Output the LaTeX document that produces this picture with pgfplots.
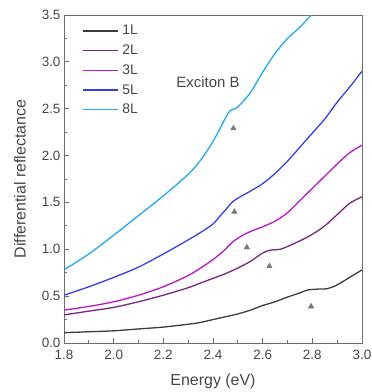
\documentclass[border=0pt]{standalone}
\usepackage{pgfplots}
\pgfplotsset{compat=1.18}
\usepackage{fontspec}
\setmainfont{Liberation Sans}
\definecolor{c1}{RGB}{60,60,60}
\definecolor{c2}{RGB}{125,35,135}
\definecolor{c3}{RGB}{190,20,205}
\definecolor{c5}{RGB}{50,65,230}
\definecolor{c8}{RGB}{30,170,240}
\definecolor{axgray}{RGB}{110,110,110}
\definecolor{txtgray}{RGB}{70,70,70}
\definecolor{trigray}{RGB}{120,120,120}
\begin{document}
\begin{tikzpicture}
\begin{axis}[
  scale only axis,
  width=298bp, height=328bp,
  xmin=1.8, xmax=3.0, ymin=0, ymax=3.5,
  xtick={1.8,2.0,...,3.0}, ytick={0,0.5,...,3.5},
  minor x tick num=1, minor y tick num=1,
  tick align=inside, xtick pos=bottom, ytick pos=left,
  major tick length=5bp, minor tick length=3bp,
  axis line style={axgray, line width=0.8bp},
  every tick/.style={axgray, line width=0.8bp},
  xticklabel style={/pgf/number format/fixed,/pgf/number format/fixed zerofill,/pgf/number format/precision=1, font=\fontsize{13.5}{13.5}\selectfont, text=txtgray, yshift=-4bp},
  yticklabel style={/pgf/number format/fixed,/pgf/number format/fixed zerofill,/pgf/number format/precision=1, font=\fontsize{13.5}{13.5}\selectfont, text=txtgray},
  /pgf/number format/assume math mode=true,
  xlabel={Energy (eV)}, ylabel={Differential reflectance},
  xlabel style={at={(axis description cs:0.5,-0.117)}, anchor=center, font=\fontsize{16}{16}\selectfont, text=txtgray},
  ylabel style={at={(axis description cs:-0.148,0.5)}, anchor=center, font=\fontsize{16}{16}\selectfont, text=txtgray},
  legend style={at={(axis description cs:0.06,0.975)}, anchor=north west, draw=none, fill=none, font=\fontsize{14}{14}\selectfont, text=txtgray, row sep=4.5bp, inner sep=0pt},
  legend cell align=left,
  legend image code/.code={\draw[#1] (0bp,0bp) -- (35bp,0bp); \path (37bp,0bp);},
  clip=true,
]
\addplot[c1, line width=1.3bp, smooth, tension=0.5] coordinates {
(1.80,0.11) (1.90,0.12) (2.00,0.13) (2.10,0.15) (2.20,0.17) (2.30,0.20) (2.35,0.22) (2.40,0.25) (2.45,0.28) (2.50,0.31) (2.55,0.35) (2.60,0.40) (2.65,0.44) (2.70,0.49) (2.75,0.535) (2.78,0.565) (2.82,0.575) (2.86,0.58) (2.90,0.62) (2.95,0.70) (3.00,0.78)};
\addlegendentry{1L}
\addplot[c2, line width=1.3bp, smooth, tension=0.5] coordinates {
(1.80,0.30) (1.90,0.34) (2.00,0.38) (2.10,0.44) (2.20,0.51) (2.30,0.59) (2.35,0.64) (2.40,0.69) (2.45,0.74) (2.50,0.80) (2.55,0.87) (2.60,0.96) (2.63,0.99) (2.67,1.00) (2.70,1.03) (2.75,1.09) (2.80,1.16) (2.85,1.25) (2.90,1.37) (2.95,1.49) (3.00,1.56)};
\addlegendentry{2L}
\addplot[c3, line width=1.3bp, smooth, tension=0.5] coordinates {
(1.80,0.35) (1.90,0.39) (2.00,0.44) (2.10,0.51) (2.20,0.60) (2.30,0.72) (2.35,0.80) (2.40,0.89) (2.45,1.00) (2.48,1.08) (2.52,1.15) (2.56,1.20) (2.60,1.24) (2.65,1.30) (2.70,1.39) (2.75,1.52) (2.80,1.65) (2.85,1.78) (2.90,1.91) (2.95,2.03) (3.00,2.11)};
\addlegendentry{3L}
\addplot[c5, line width=1.3bp, smooth, tension=0.5] coordinates {
(1.80,0.51) (1.90,0.60) (2.00,0.70) (2.10,0.81) (2.20,0.95) (2.30,1.10) (2.35,1.18) (2.40,1.27) (2.43,1.36) (2.46,1.45) (2.48,1.51) (2.51,1.56) (2.55,1.62) (2.60,1.70) (2.65,1.81) (2.70,1.94) (2.75,2.09) (2.80,2.24) (2.85,2.39) (2.90,2.57) (2.95,2.73) (3.00,2.90)};
\addlegendentry{5L}
\addplot[c8, line width=1.3bp, smooth, tension=0.5] coordinates {
(1.80,0.78) (1.90,0.95) (2.00,1.15) (2.10,1.36) (2.20,1.57) (2.30,1.80) (2.35,1.95) (2.40,2.15) (2.45,2.40) (2.47,2.48) (2.50,2.52) (2.55,2.67) (2.60,2.89) (2.65,3.09) (2.70,3.25) (2.75,3.37) (2.80,3.51) (2.85,3.62)};
\addlegendentry{8L}
\addplot[only marks, mark=triangle*, mark size=3.2bp, trigray, forget plot] coordinates {
(2.482,2.29) (2.486,1.40) (2.536,1.02) (2.627,0.82) (2.795,0.39)};
\node[font=\fontsize{15}{15}\selectfont, text=txtgray] at (axis cs:2.38,2.78) {Exciton B};
\end{axis}
\pgfresetboundingbox
\path[use as bounding box] ([shift={(-64bp,-49bp)}]current axis.south west) rectangle ([shift={(10bp,15bp)}]current axis.north east);
\end{tikzpicture}
\end{document}
